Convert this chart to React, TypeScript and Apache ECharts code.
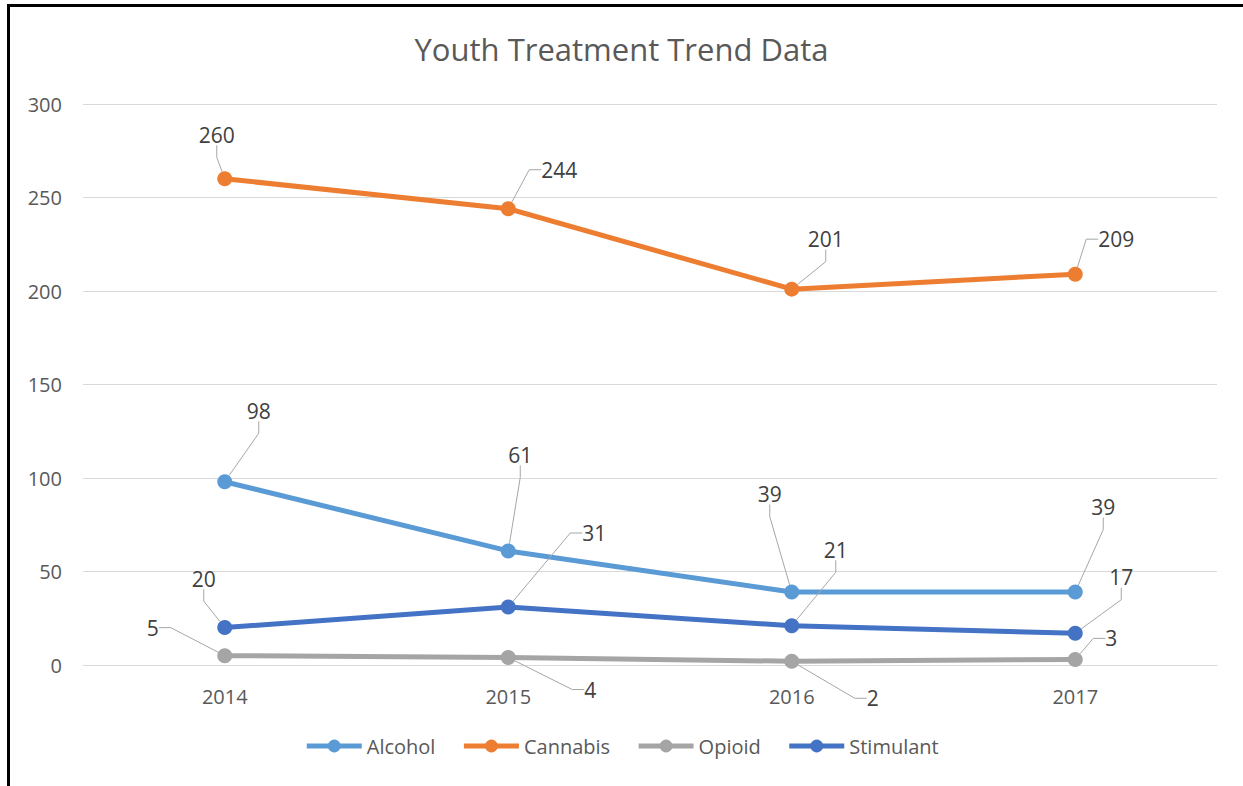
import React, { useEffect, useRef } from "react";
import * as echarts from "echarts";

const years = ["2014", "2015", "2016", "2017"];
const alcohol = [98, 61, 39, 39];
const cannabis = [260, 244, 201, 209];
const opioid = [5, 4, 2, 3];
const stimulant = [20, 31, 21, 17];

// Label offsets (dx, dy) from each point, used for the callout placement.
const alcoholOffsets = [[34, -71], [12, -96], [-22, -98], [28, -85]];
const cannabisOffsets = [[-8, -44], [51, -39], [34, -50], [41, -35]];
const opioidOffsets = [[-72, -28], [82, 32], [81, 37], [36, -21]];
const stimulantOffsets = [[-21, -49], [86, -74], [44, -76], [46, -56]];

const FONT = "'Open Sans', 'Noto Sans', sans-serif";

function lineSeries(name: string, values: number[], color: string, offsets: number[][]) {
  return {
    name,
    type: "line",
    data: values,
    symbol: "circle",
    symbolSize: 15,
    itemStyle: { color },
    lineStyle: { color, width: 5 },
    label: {
      show: true,
      position: "inside",
      color: "#404040",
      fontSize: 21,
      fontFamily: FONT,
    },
    labelLine: {
      show: true,
      length2: 12,
      lineStyle: { color: "#a6a6a6", width: 1 },
    },
    labelLayout: (params: any) => {
      const o = offsets[params.dataIndex] || [0, 0];
      return { dx: o[0], dy: o[1] };
    },
  };
}

export default function App() {
  const ref = useRef<HTMLDivElement>(null);

  useEffect(() => {
    if (!ref.current) return;
    const chart = echarts.init(ref.current, null, { renderer: "svg" });
    chart.setOption({
      animation: false,
      backgroundColor: "#ffffff",
      title: {
        text: "Youth Treatment Trend Data",
        left: "center",
        top: 28,
        textStyle: {
          color: "#595959",
          fontSize: 31,
          fontWeight: "normal",
          fontFamily: FONT,
        },
      },
      grid: { left: 83, right: 26, top: 104, bottom: 121 },
      xAxis: {
        type: "category",
        data: years,
        boundaryGap: true,
        axisLine: { show: true, lineStyle: { color: "#d9d9d9", width: 1 } },
        axisTick: { show: false },
        axisLabel: { color: "#595959", fontSize: 20, margin: 21, fontFamily: FONT },
      },
      yAxis: {
        type: "value",
        min: 0,
        max: 300,
        interval: 50,
        axisLine: { show: false },
        axisTick: { show: false },
        axisLabel: { color: "#595959", fontSize: 20, margin: 21, fontFamily: FONT },
        splitLine: { lineStyle: { color: "#d9d9d9", width: 1 } },
      },
      legend: {
        bottom: 25,
        left: "center",
        itemWidth: 55,
        itemHeight: 16,
        itemGap: 26,
        lineStyle: { width: 5 },
        textStyle: { color: "#595959", fontSize: 20, fontFamily: FONT, padding: [0, 0, 0, 0] },
        data: ["Alcohol", "Cannabis", "Opioid", "Stimulant"],
      },
      series: [
        lineSeries("Alcohol", alcohol, "#5B9BD5", alcoholOffsets),
        lineSeries("Cannabis", cannabis, "#ED7D31", cannabisOffsets),
        lineSeries("Opioid", opioid, "#A5A5A5", opioidOffsets),
        lineSeries("Stimulant", stimulant, "#4472C4", stimulantOffsets),
      ],
    });
    return () => chart.dispose();
  }, []);

  return (
    <div style={{ position: "fixed", left: 0, top: 0, width: 1243, height: 786, background: "#fff" }}>
      <div ref={ref} style={{ position: "absolute", left: 0, top: 0, width: 1243, height: 786 }} />
      <div
        style={{
          position: "absolute",
          left: 7,
          top: 4,
          width: 1236,
          height: 782,
          borderTop: "3px solid #000",
          borderLeft: "3px solid #000",
          boxSizing: "border-box",
          pointerEvents: "none",
        }}
      />
    </div>
  );
}
